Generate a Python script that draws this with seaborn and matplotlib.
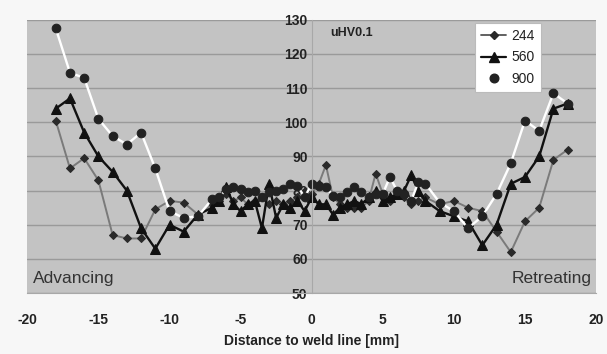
import pandas as pd
import matplotlib
matplotlib.use('Agg')
import matplotlib.pyplot as plt
import seaborn as sns
from matplotlib.lines import Line2D

# positions along the weld [mm]
dist = [-18, -17, -16, -15, -14, -13, -12, -11, -10, -9, -8, -7,
        -6.5, -6, -5.5, -5, -4.5, -4, -3.5, -3, -2.5, -2, -1.5, -1, -0.5,
        0, 0.5, 1, 1.5, 2, 2.5, 3, 3.5, 4, 4.5, 5, 5.5, 6, 6.5, 7, 7.5,
        8, 9, 10, 11, 12, 13, 14, 15, 16, 17, 18]

hv_244 = [100.5, 86.5, 89.5, 83, 67, 66, 66, 74.5, 77, 76.5, 73, 76,
          77, 79, 77, 78, 76, 77, 78, 76, 77, 76, 77, 78, 80,
          79, 82, 87.5, 78, 76, 75, 75, 75, 77, 85, 79, 77, 80, 78, 76, 77,
          78, 76, 77, 75, 74, 68, 62, 71, 75, 89, 92]

hv_560 = [104, 107, 97, 90, 85.5, 80, 69, 63, 70, 68, 73, 75,
          77, 81, 76, 74, 76, 77, 69, 82, 72, 76, 75, 77, 74,
          78, 76, 76, 73, 75, 76, 77, 76, 78, 80, 77, 78, 79, 80, 84.5, 80,
          77, 74, 72.5, 71, 64, 70, 82, 84, 90, 104, 105.5]

hv_900 = [127.5, 114.5, 113, 101, 96, 93.5, 97, 86.5, 74, 72, 72.5, 77.5,
          78, 80.5, 81, 80.5, 79.5, 80, 78, 79.5, 80, 80.5, 82, 81.5, 78,
          82, 81.5, 81, 78.5, 78, 79.5, 81, 79.5, 78, 79, 79, 84, 80, 79, 77, 82.5,
          82, 76.5, 74, 69, 72.5, 79, 88, 100.5, 97.5, 108.5, 105.5]

df = pd.DataFrame({'dist': dist, '244': hv_244, '560': hv_560, '900': hv_900})

sns.set_style('white')
plt.rcParams['font.family'] = ['Liberation Sans', 'DejaVu Sans']
plt.rcParams['axes.unicode_minus'] = False

fig = plt.figure(figsize=(6.07, 3.54), dpi=100, facecolor='#f7f7f7')
ax = fig.add_axes([0.045, 0.172, 0.937, 0.772])
ax.set_facecolor('#c3c3c3')

sns.lineplot(data=df, x='dist', y='244', ax=ax, color='#7a7a7a', lw=1.4,
             marker='D', markersize=4.5, markerfacecolor='#2a2a2a', markeredgecolor='#2a2a2a')
sns.lineplot(data=df, x='dist', y='560', ax=ax, color='#111111', lw=1.7,
             marker='^', markersize=6.5, markerfacecolor='#111111', markeredgecolor='#111111')
sns.lineplot(data=df, x='dist', y='900', ax=ax, color='white', lw=1.7,
             marker='o', markersize=6.2, markerfacecolor='#222222', markeredgecolor='#222222')

ax.set_xlim(-20, 20)
ax.set_ylim(50, 130)
ax.set_xticks(range(-20, 21, 5))
ax.set_yticks(range(50, 131, 10))
ax.grid(axis='y', color='#9a9a9a', lw=1)
ax.set_axisbelow(True)

for s in ['top', 'right']:
    ax.spines[s].set_visible(False)
ax.spines['left'].set_position(('data', 0))
ax.spines['left'].set_color('#a8a8a8')
ax.spines['left'].set_linewidth(0.8)
ax.spines['bottom'].set_color('#a8a8a8')
ax.tick_params(axis='y', length=0, pad=3, labelsize=10)
ax.tick_params(axis='x', length=4, color='#b0b0b0', direction='out', pad=10, labelsize=10)
for lab in ax.get_xticklabels() + ax.get_yticklabels():
    lab.set_fontweight('bold')
    lab.set_color('#222222')

ax.set_ylabel('')
ax.set_xlabel('Distance to weld line [mm]', fontsize=10, fontweight='bold', color='#222222', labelpad=5)

ax.text(1.3, 126, 'uHV0.1', fontsize=9, fontweight='bold', color='#222222', va='center')
ax.text(-19.6, 52, 'Advancing', fontsize=12.5, color='#333333', va='bottom')
ax.text(19.7, 52, 'Retreating', fontsize=12.5, color='#333333', va='bottom', ha='right')

handles = [
    Line2D([], [], color='#555555', lw=1.3, marker='D', markersize=4.5,
           markerfacecolor='#2a2a2a', markeredgecolor='#2a2a2a'),
    Line2D([], [], color='#111111', lw=1.6, marker='^', markersize=6.5),
    Line2D([], [], color='white', lw=1.6, marker='o', markersize=6.2,
           markerfacecolor='#222222', markeredgecolor='#222222'),
]
leg = ax.legend(handles, ['244', '560', '900'], loc='upper left', bbox_to_anchor=(0.787, 0.99),
                borderaxespad=0, frameon=True, fancybox=False, edgecolor='#bbbbbb', facecolor='white',
                framealpha=1, fontsize=10, handlelength=1.8, handletextpad=0.4,
                labelspacing=0.55, borderpad=0.45)
leg.get_frame().set_linewidth(0.8)
for t in leg.get_texts():
    t.set_color('#222222')

fig.savefig('out.png', dpi=100, facecolor=fig.get_facecolor())
